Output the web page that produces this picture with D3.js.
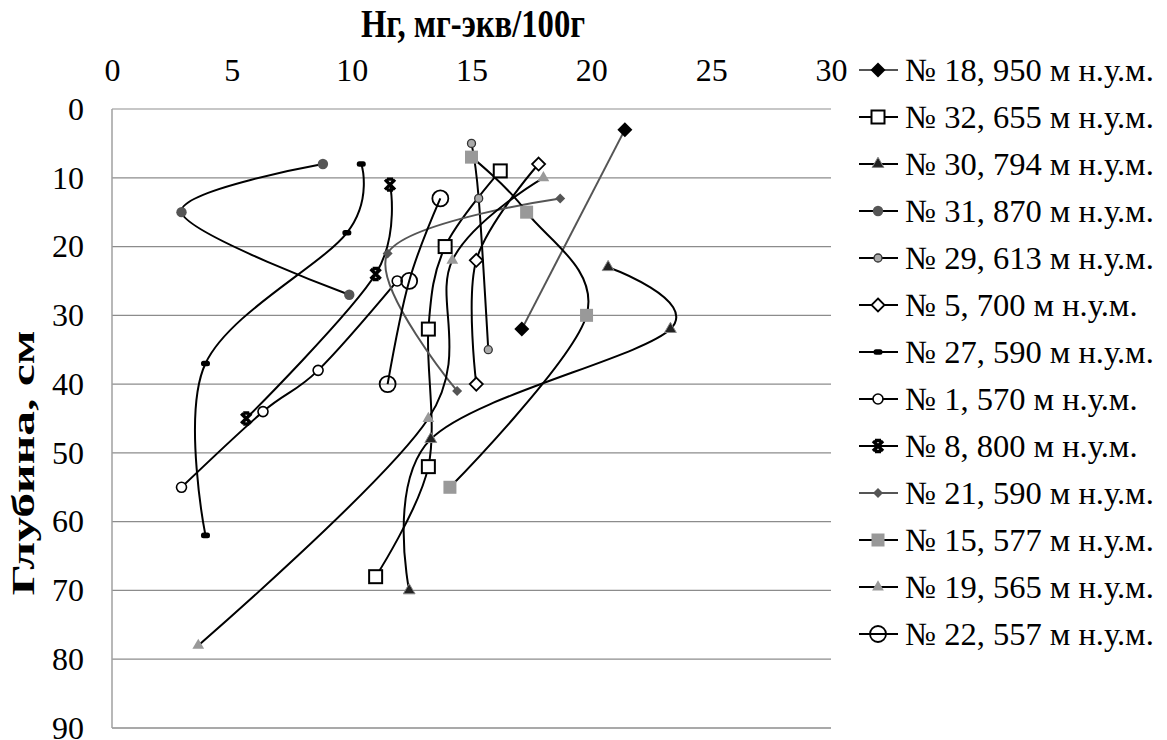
<!DOCTYPE html>
<html>
<head>
<meta charset="utf-8">
<script src="https://cdn.jsdelivr.net/npm/d3@7"></script>
<style>
  html, body { margin: 0; padding: 0; background: #fff; }
  svg { display: block; }
</style>
</head>
<body>
<svg id="chart" width="1167" height="740"></svg>
<script>
// Hydrolytic acidity (Нг) by depth for each soil profile
const seriesNames = [
  "№ 18, 950 м н.у.м.", "№ 32, 655 м н.у.м.", "№ 30, 794 м н.у.м.",
  "№ 31, 870 м н.у.м.", "№ 29, 613 м н.у.м.", "№ 5, 700 м н.у.м.",
  "№ 27, 590 м н.у.м.", "№ 1, 570 м н.у.м.", "№ 8, 800 м н.у.м.",
  "№ 21, 590 м н.у.м.", "№ 15, 577 м н.у.м.", "№ 19, 565 м н.у.м.",
  "№ 22, 557 м н.у.м."
];

// Нг values, мг-экв/100г
const hg18 = [21.4, 17.1];
const hg32 = [16.2, 13.9, 13.2, 13.2, 11.0];
const hg30 = [20.7, 23.3, 13.3, 12.4];
const hg31 = [8.8, 2.9, 9.9];
const hg29 = [15.0, 15.3, 15.7];
const hg5  = [17.8, 15.2, 15.2];
const hg27 = [10.4, 9.8, 3.9, 3.9];
const hg1  = [11.9, 8.6, 6.3, 2.9];
const hg8  = [11.6, 11.0, 5.6];
const hg21 = [18.7, 11.5, 14.4];
const hg15 = [15.0, 17.3, 19.8, 14.1];
const hg19 = [18.0, 14.2, 13.2, 3.6];
const hg22 = [13.7, 12.4, 11.5];

// sampling depths, см
const depth18 = [3, 32];
const depth32 = [9, 20, 32, 52, 68];
const depth30 = [23, 32, 48, 70];
const depth31 = [8, 15, 27];
const depth29 = [5, 13, 35];
const depth5  = [8, 22, 40];
const depth27 = [8, 18, 37, 62];
const depth1  = [25, 38, 44, 55];
const depth8  = [11, 24, 45];
const depth21 = [13, 21, 41];
const depth15 = [7, 15, 30, 55];
const depth19 = [10, 22, 45, 78];
const depth22 = [13, 25, 40];

const xTicks = [0, 5, 10, 15, 20, 25, 30];
const yTicks = [0, 10, 20, 30, 40, 50, 60, 70, 80, 90];

const hgValues = [hg18, hg32, hg30, hg31, hg29, hg5, hg27, hg1, hg8, hg21, hg15, hg19, hg22];
const depthValues = [depth18, depth32, depth30, depth31, depth29, depth5, depth27, depth1, depth8, depth21, depth15, depth19, depth22];

// drawing style per profile: marker kind, line colour
const styles = [
  { marker: "diamondSolid", line: "#555" },
  { marker: "squareOpen",   line: "#000" },
  { marker: "triangleDark", line: "#000" },
  { marker: "circleDark",   line: "#000" },
  { marker: "circleGrey",   line: "#000" },
  { marker: "diamondOpen",  line: "#000" },
  { marker: "dash",         line: "#000" },
  { marker: "circleSmall",  line: "#000" },
  { marker: "cross",        line: "#000" },
  { marker: "diamondSmall", line: "#555" },
  { marker: "squareGrey",   line: "#000" },
  { marker: "triangleGrey", line: "#000" },
  { marker: "circleLarge",  line: "#000" }
];

const SERIF = '"Liberation Serif"';

// apply the serif face to a text selection
function serif(sel, size, bold) {
  sel.style("font-family", SERIF)
     .style("font-size", size + "px")
     .style("font-weight", bold ? "bold" : "normal")
     .style("fill", "#000");
  return sel;
}

const series = seriesNames.map((name, i) => ({
  name,
  style: styles[i],
  points: hgValues[i].map((v, j) => ({ x: v, y: depthValues[i][j] }))
}));

const svg = d3.select("#chart");
const x = d3.scaleLinear().domain([0, 30]).range([112, 831]);
const y = d3.scaleLinear().domain([0, 90]).range([109, 728]);

// horizontal gridlines
svg.append("g").selectAll("line").data(yTicks).join("line")
  .attr("x1", x(0)).attr("x2", x(30))
  .attr("y1", d => y(d)).attr("y2", d => y(d))
  .attr("stroke", d => d === 0 ? "#b4b4b4" : "#8c8c8c").attr("stroke-width", 1.3);

// vertical value axis line
svg.append("line")
  .attr("x1", x(0)).attr("x2", x(0)).attr("y1", y(0)).attr("y2", y(90))
  .attr("stroke", "#a0a0a0").attr("stroke-width", 1.5);

// top axis tick labels
const xAxis = d3.axisTop(x).tickValues(xTicks).tickSize(0).tickPadding(0);
const gx = svg.append("g").attr("transform", "translate(0,81)").call(xAxis);
gx.select(".domain").remove();
serif(gx.selectAll("text"), 32, false);

// left axis tick labels
const yAxis = d3.axisLeft(y).tickValues(yTicks).tickSize(0).tickPadding(0);
const gy = svg.append("g").attr("transform", "translate(84,0)").call(yAxis);
gy.select(".domain").remove();
serif(gy.selectAll("text"), 32, false);

// axis titles
serif(svg.append("text")
  .attr("transform", "translate(473,37) scale(0.96,1.2)")
  .attr("text-anchor", "middle")
  .text("Нг, мг-экв/100г"), 34, true);

serif(svg.append("text")
  .attr("transform", "translate(34,463) rotate(-90) scale(1.6,1)")
  .attr("text-anchor", "middle")
  .text("Глубина, см"), 31, true);

// smoothed profile lines
const line = d3.line()
  .x(d => x(d.x)).y(d => y(d.y))
  .curve(d3.curveCardinal.tension(0));

svg.append("g").selectAll("path").data(series).join("path")
  .attr("d", d => line(d.points))
  .attr("fill", "none")
  .attr("stroke", d => d.style.line)
  .attr("stroke-width", 2);

// marker painter
function drawMarker(g, kind) {
  const sym = (type, size) => d3.symbol().type(type).size(size)();
  switch (kind) {
    case "diamondSolid":
      g.append("path").attr("d", "M0,-7.5L7.5,0L0,7.5L-7.5,0Z").attr("fill", "#000");
      break;
    case "squareOpen":
      g.append("rect").attr("x", -6.5).attr("y", -6.5).attr("width", 13).attr("height", 13)
        .attr("fill", "#fff").attr("stroke", "#000").attr("stroke-width", 2);
      break;
    case "triangleDark":
      g.append("path").attr("d", sym(d3.symbolTriangle, 60))
        .attr("fill", "#222").attr("stroke", "#888").attr("stroke-width", 1);
      break;
    case "circleDark":
      g.append("circle").attr("r", 5.2).attr("fill", "#555");
      break;
    case "circleGrey":
      g.append("circle").attr("r", 4).attr("fill", "#aaa").attr("stroke", "#333").attr("stroke-width", 1.3);
      break;
    case "diamondOpen":
      g.append("path").attr("d", "M0,-6.5L6.5,0L0,6.5L-6.5,0Z")
        .attr("fill", "#fff").attr("stroke", "#000").attr("stroke-width", 1.8);
      break;
    case "dash":
      g.append("rect").attr("x", -4.5).attr("y", -2.8).attr("width", 9).attr("height", 5.6)
        .attr("rx", 2.5).attr("fill", "#000");
      break;
    case "circleSmall":
      g.append("circle").attr("r", 5).attr("fill", "#fff").attr("stroke", "#000").attr("stroke-width", 1.6);
      break;
    case "cross":
      g.append("path").attr("d", "M-5,-5L5,5M5,-5L-5,5M-3,-5.5H3M-3,5.5H3")
        .attr("fill", "none").attr("stroke", "#000").attr("stroke-width", 3.4);
      break;
    case "diamondSmall":
      g.append("path").attr("d", "M0,-5L5,0L0,5L-5,0Z").attr("fill", "#555");
      break;
    case "squareGrey":
      g.append("rect").attr("x", -6.5).attr("y", -6.5).attr("width", 13).attr("height", 13)
        .attr("fill", "#999");
      break;
    case "triangleGrey":
      g.append("path").attr("d", sym(d3.symbolTriangle, 60)).attr("fill", "#999");
      break;
    case "circleLarge":
      g.append("circle").attr("r", 8).attr("fill", "none").attr("stroke", "#000").attr("stroke-width", 1.8);
      break;
  }
}

// point markers
const markerLayer = svg.append("g");
series.forEach(s => {
  s.points.forEach(p => {
    const g = markerLayer.append("g").attr("transform", `translate(${x(p.x)},${y(p.y)})`);
    drawMarker(g, s.style.marker);
  });
});

// legend
const legendTop = 70, legendStep = 47;
const legend = svg.append("g");
series.forEach((s, i) => {
  const row = legend.append("g").attr("transform", `translate(0,${legendTop + i * legendStep})`);
  row.append("line").attr("x1", 859).attr("x2", 898).attr("y1", 0).attr("y2", 0)
    .attr("stroke", s.style.line).attr("stroke-width", 2);
  drawMarker(row.append("g").attr("transform", "translate(878,0)"), s.style.marker);
  serif(row.append("text").attr("x", 905).attr("y", 0).attr("dy", "0.35em").text(s.name), 32.5, false);
});
</script>
</body>
</html>
